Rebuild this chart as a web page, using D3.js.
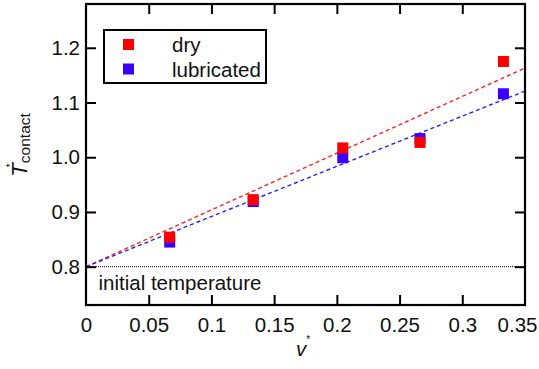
<!DOCTYPE html>
<html>
<head>
<meta charset="utf-8">
<script src="https://cdn.jsdelivr.net/npm/d3@7"></script>
<style>
  html, body { margin: 0; padding: 0; background: #fff; }
  svg { display: block; font-family: "Liberation Sans", Arial, Helvetica, sans-serif; }
</style>
</head>
<body>
<svg id="chart" width="539" height="369"></svg>
<script>
// Dimensionless sliding speed v*
const speeds = [0.0667, 0.1333, 0.2047, 0.2663, 0.3328];
// Dimensionless contact temperature T*_contact
const dryTemps = [0.854, 0.9225, 1.017, 1.027, 1.175];
const lubricatedTemps = [0.845, 0.919, 0.999, 1.034, 1.116];
// Linear fits through the initial temperature
const initialTemp = 0.8;
const drySlope = 1.037;
const lubricatedSlope = 0.917;

const xTicks = [0, 0.05, 0.1, 0.15, 0.2, 0.25, 0.3, 0.35];
const xTickLabels = ["0", "0.05", "0.1", "0.15", "0.2", "0.25", "0.3", "0.35"];
const yTicks = [0.8, 0.9, 1.0, 1.1, 1.2];
const yTickLabels = ["0.8", "0.9", "1.0", "1.1", "1.2"];

const seriesNames = ["dry", "lubricated"];
const seriesColors = ["#ff0000", "#3a00ff"];
const lineColors = ["#ff2222", "#2222ff"];

const svg = d3.select("#chart");
const plot = { left: 86, right: 525, top: 4, bottom: 305 };

const x = d3.scaleLinear().domain([0, 0.35]).range([plot.left, plot.right]);
const y = d3.scaleLinear().domain([0.73, 1.28]).range([plot.bottom, plot.top]);

const fontSize = 20.5;

// Initial temperature reference line
svg.append("line")
  .attr("x1", x(0)).attr("x2", x(0.35))
  .attr("y1", y(initialTemp)).attr("y2", y(initialTemp))
  .attr("stroke", "#000").attr("stroke-width", 1)
  .attr("stroke-dasharray", "1,1");

svg.append("text")
  .attr("x", 98.5).attr("y", 289.5)
  .attr("font-size", fontSize)
  .attr("fill", "#111")
  .text("initial temperature");

// Fitted lines
const fits = [
  { slope: drySlope, color: lineColors[0] },
  { slope: lubricatedSlope, color: lineColors[1] }
];
fits.forEach(f => {
  svg.append("line")
    .attr("x1", x(0)).attr("y1", y(initialTemp))
    .attr("x2", x(0.35)).attr("y2", y(initialTemp + f.slope * 0.35))
    .attr("stroke", f.color).attr("stroke-width", 1.4)
    .attr("stroke-dasharray", "4,3");
});

// Markers: lubricated drawn first, dry on top
const ms = 11;
const series = [
  { values: lubricatedTemps, color: seriesColors[1] },
  { values: dryTemps, color: seriesColors[0] }
];
series.forEach(s => {
  svg.append("g").selectAll("rect")
    .data(speeds.map((v, i) => [v, s.values[i]]))
    .join("rect")
    .attr("x", d => x(d[0]) - ms / 2)
    .attr("y", d => y(d[1]) - ms / 2)
    .attr("width", ms).attr("height", ms)
    .attr("fill", s.color);
});

// Axes with inward ticks
const tickLen = 10;
const xLabel = d => xTickLabels[xTicks.indexOf(d)];
const yLabel = d => yTickLabels[yTicks.indexOf(d)];

const innerX = xTicks.filter(t => t > 0 && t < 0.35);

const gx = svg.append("g").attr("transform", `translate(0,${plot.bottom})`)
  .call(d3.axisBottom(x).tickValues(xTicks).tickFormat(xLabel)
    .tickSizeInner(-tickLen).tickSizeOuter(0).tickPadding(12));
gx.selectAll(".tick line").filter(d => d === 0 || d === 0.35).remove();
// keep the last label inside the canvas
gx.selectAll(".tick text").filter(d => d === 0.35).attr("text-anchor", "end").attr("x", 12);

const gxTop = svg.append("g").attr("transform", `translate(0,${plot.top})`)
  .call(d3.axisTop(x).tickValues(innerX).tickFormat("")
    .tickSizeInner(-tickLen).tickSizeOuter(0));

const gy = svg.append("g").attr("transform", `translate(${plot.left},0)`)
  .call(d3.axisLeft(y).tickValues(yTicks).tickFormat(yLabel)
    .tickSizeInner(-tickLen).tickSizeOuter(0).tickPadding(6));

const gyRight = svg.append("g").attr("transform", `translate(${plot.right},0)`)
  .call(d3.axisRight(y).tickValues(yTicks).tickFormat("")
    .tickSizeInner(-tickLen).tickSizeOuter(0));

[gx, gxTop, gy, gyRight].forEach(g => {
  g.select(".domain").remove();
  g.selectAll(".tick line").attr("stroke", "#000").attr("stroke-width", 2);
  g.selectAll(".tick text")
    .attr("fill", "#111")
    .attr("font-size", fontSize)
    .attr("font-family", "Liberation Sans, Arial, sans-serif");
});

// Frame
svg.append("rect")
  .attr("x", plot.left).attr("y", plot.top)
  .attr("width", plot.right - plot.left).attr("height", plot.bottom - plot.top)
  .attr("fill", "none").attr("stroke", "#000").attr("stroke-width", 2.2);

// Legend
const legend = svg.append("g");
legend.append("rect")
  .attr("x", 104).attr("y", 30).attr("width", 162).attr("height", 53)
  .attr("fill", "#fff").attr("stroke", "#000").attr("stroke-width", 2);
seriesNames.forEach((name, i) => {
  const cy = 44.5 + i * 24.5;
  legend.append("rect")
    .attr("x", 128.5 - ms / 2).attr("y", cy - ms / 2)
    .attr("width", ms).attr("height", ms)
    .attr("fill", seriesColors[i]);
  legend.append("text")
    .attr("x", 172).attr("y", cy + 7.5)
    .attr("font-size", fontSize)
    .attr("fill", "#111")
    .text(name);
});

// Axis titles
const xt = svg.append("text")
  .attr("x", 303).attr("y", 356)
  .attr("text-anchor", "middle")
  .attr("font-size", fontSize)
  .attr("fill", "#111");
xt.append("tspan").attr("font-style", "italic").text("v");
xt.append("tspan").attr("font-size", 10).attr("dy", -13).text("*");

const yt = svg.append("text")
  .attr("transform", "translate(27,145) rotate(-90)")
  .attr("text-anchor", "middle")
  .attr("font-size", 22)
  .attr("fill", "#111");
yt.append("tspan").attr("font-style", "italic").text("T");
yt.append("tspan").attr("font-size", 11).attr("dx", -4).attr("dy", -13).text("*");
yt.append("tspan").attr("font-size", 15.5).attr("dy", 16).text("contact");
</script>
</body>
</html>
